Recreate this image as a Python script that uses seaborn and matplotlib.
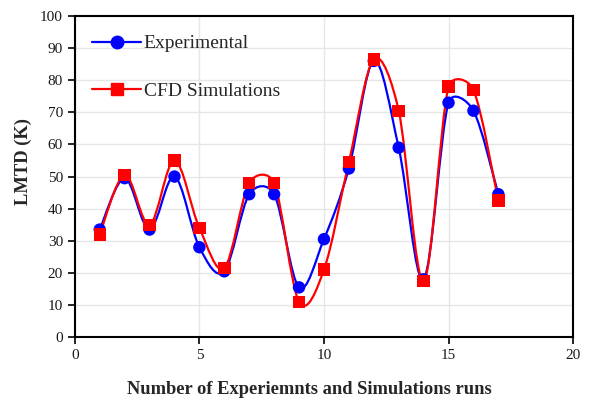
import numpy as np
import pandas as pd
import matplotlib
matplotlib.use("Agg")
import matplotlib.pyplot as plt
from matplotlib.path import Path
from matplotlib.patches import PathPatch
from matplotlib.lines import Line2D
import seaborn as sns

runs = [1, 2, 3, 4, 5, 6, 7, 8, 9, 10, 11, 12, 13, 14, 15, 16, 17]
experimental = [33.5, 49.5, 33.5, 50, 28, 20.5, 44.5, 44.5, 15.5, 30.5, 52.5, 86, 59, 18, 73, 70.5, 44.5]
cfd = [32, 50.5, 35, 55, 34, 21.5, 48, 48, 11, 21, 54.5, 86.5, 70.5, 17.5, 78, 77, 42.5]
series_names = ["Experimental", "CFD Simulations"]
colors = ["#0000FF", "#FF0000"]
markers = ["o", "s"]

sns.set_theme(style="whitegrid")
plt.rcParams["font.family"] = ["Liberation Serif", "DejaVu Serif"]

fig = plt.figure(figsize=(5.89, 3.99), dpi=100)
ax = fig.add_axes([0.127, 0.155, 0.846, 0.805])
ax.set_xlim(0, 20)
ax.set_ylim(0, 100)

df = pd.DataFrame({
    "run": runs * 2,
    "value": experimental + cfd,
    "series": [series_names[0]] * len(runs) + [series_names[1]] * len(runs),
})


def smooth_path(xs, ys, ax):
    # Excel-like smoothed line: cubic Bezier segments through the data points;
    # control offsets are (P2-P0)/6, capped at half the on-screen segment length
    pts = np.column_stack([np.asarray(xs, float), np.asarray(ys, float)])
    scr = ax.transData.transform(pts)
    n = len(pts)
    verts = [tuple(pts[0])]
    codes = [Path.MOVETO]

    def dist(a, b):
        return np.hypot(*(scr[b] - scr[a]))

    for i in range(n - 1):
        i0, i1, i2, i3 = max(i - 1, 0), i, i + 1, min(i + 2, n - 1)
        d12 = dist(i1, i2)
        d02 = dist(i0, i2)
        d13 = dist(i1, i3)
        f1 = min(1 / 6, d12 / (2 * d02)) if d02 > 0 else 0
        f2 = min(1 / 6, d12 / (2 * d13)) if d13 > 0 else 0
        c1 = pts[i1] + (pts[i2] - pts[i0]) * f1
        c2 = pts[i2] - (pts[i3] - pts[i1]) * f2
        verts += [tuple(c1), tuple(c2), tuple(pts[i2])]
        codes += [Path.CURVE4] * 3
    return Path(verts, codes)


for name, vals, c in zip(series_names, [experimental, cfd], colors):
    patch = PathPatch(smooth_path(runs, vals, ax), facecolor="none", edgecolor=c,
                      lw=1.6, zorder=3)
    ax.add_patch(patch)

sns.scatterplot(data=df, x="run", y="value", hue="series", style="series",
                palette=colors, markers=markers, s=80, edgecolor="none",
                ax=ax, legend=False, zorder=4)

ax.set_xlim(0, 20)
ax.set_ylim(0, 100)
ax.set_xticks([0, 5, 10, 15, 20])
ax.set_yticks(range(0, 101, 10))
ax.grid(True, color="#E6E6E6", lw=1)
for s in ax.spines.values():
    s.set_color("black")
    s.set_linewidth(1.5)
ax.tick_params(axis="both", which="major", direction="out", length=5, width=1.2,
               color="black", labelsize=11, labelcolor="#1a1a1a", bottom=True, left=True)
ax.set_xlabel("Number of Experiemnts and Simulations runs", fontsize=13.3,
              fontweight="bold")
ax.set_ylabel("LMTD (K)", fontsize=13.3, fontweight="bold")
ax.xaxis.set_label_coords(0.47, -0.135)
ax.yaxis.set_label_coords(-0.086, 0.547)

handles = [Line2D([], [], color=c, marker=m, markersize=9, lw=1.6)
           for c, m in zip(colors, markers)]
ax.legend(handles, series_names, loc="upper left", frameon=False, fontsize=14,
          labelspacing=1.56, handlelength=2.5, handletextpad=0.15,
          bbox_to_anchor=(0.0, 0.996))

fig.savefig("out.png", dpi=100)
